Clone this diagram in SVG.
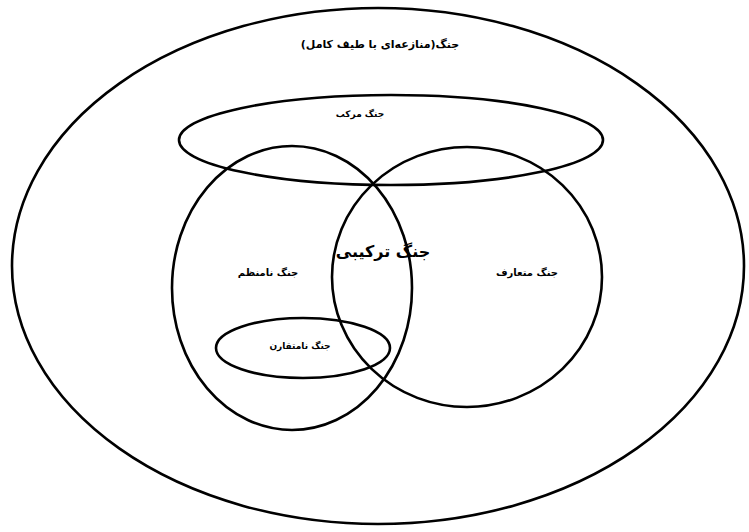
<svg xmlns="http://www.w3.org/2000/svg" width="749" height="532" viewBox="0 0 749 532">
<style>
.s{fill:none;stroke:#000;stroke-width:2.6}
.t{font-family:"DejaVu Sans","Liberation Sans",sans-serif;font-weight:bold;fill:#000;text-anchor:middle;direction:rtl}
</style>
<rect width="749" height="532" fill="#fff"/>
<g id="outer"><ellipse class="s" cx="378" cy="266" rx="366" ry="258"/><text class="t" x="380" y="48" font-size="11">جنگ(منازعه‌ای با طیف کامل)</text></g>
<g id="compound"><ellipse class="s" cx="391" cy="140" rx="212" ry="45"/><text class="t" x="360" y="117" font-size="9">جنگ مرکب</text></g>
<g id="irregular"><ellipse class="s" cx="292" cy="288" rx="120" ry="142"/><text class="t" x="268" y="276" font-size="10">جنگ نامنظم</text></g>
<g id="conventional"><ellipse class="s" cx="467" cy="277" rx="135" ry="130"/><text class="t" x="527" y="276" font-size="10">جنگ متعارف</text></g>
<g id="hybrid"><text class="t" x="383" y="257" font-size="16">جنگ ترکیبی</text></g>
<g id="asymmetric"><ellipse class="s" cx="303" cy="348" rx="87" ry="30"/><text class="t" x="300" y="349" font-size="9">جنگ نامتقارن</text></g>
<g id="connectors"></g>
</svg>
